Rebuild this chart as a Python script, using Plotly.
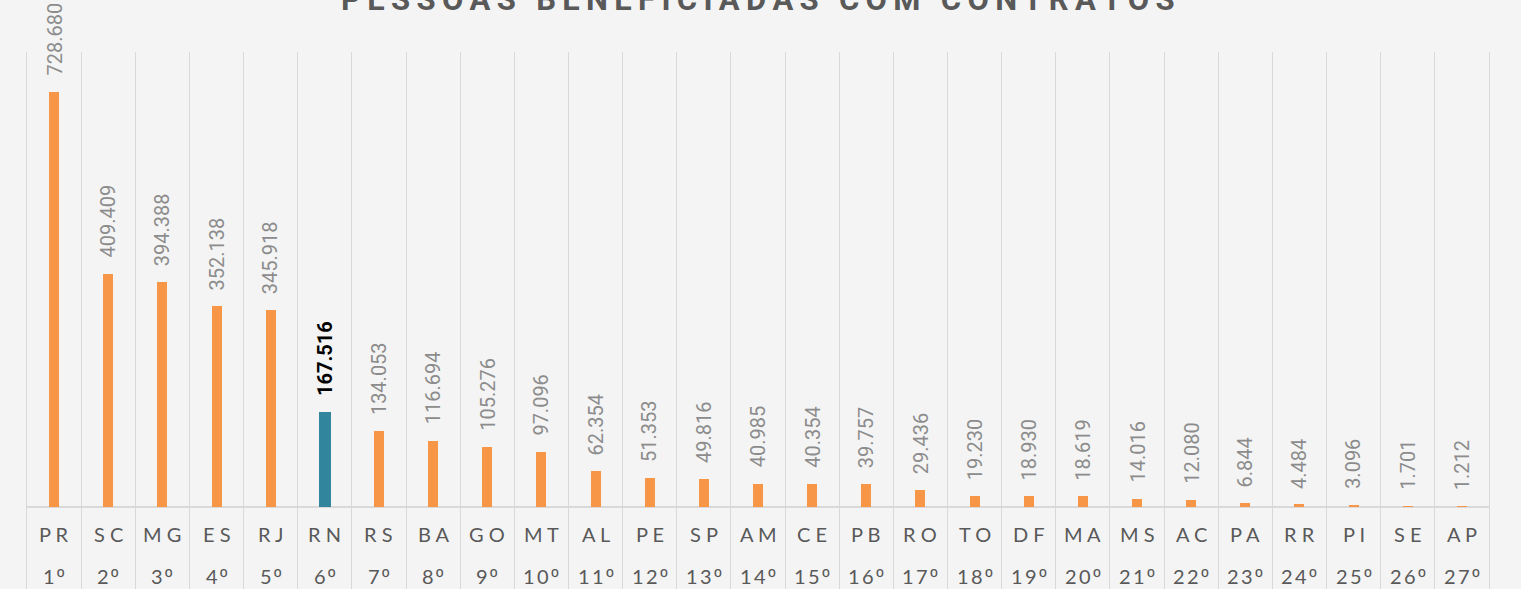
import plotly.graph_objects as go

# ---- data ----
states = ["PR", "SC", "MG", "ES", "RJ", "RN", "RS", "BA", "GO", "MT", "AL", "PE", "SP", "AM",
          "CE", "PB", "RO", "TO", "DF", "MA", "MS", "AC", "PA", "RR", "PI", "SE", "AP"]
values = [728680, 409409, 394388, 352138, 345918, 167516, 134053, 116694, 105276, 97096,
          62354, 51353, 49816, 40985, 40354, 39757, 29436, 19230, 18930, 18619, 14016,
          12080, 6844, 4484, 3096, 1701, 1212]
ranks = ["1º", "2º", "3º", "4º", "5º", "6º", "7º", "8º", "9º", "10º", "11º", "12º", "13º", "14º",
         "15º", "16º", "17º", "18º", "19º", "20º", "21º", "22º", "23º", "24º", "25º", "26º", "27º"]
highlight = "RN"
title_text = "PESSOAS BENEFICIADAS COM CONTRATOS"

# ---- style ----
BG = "#f4f4f4"
ORANGE = "#f79646"
TEAL = "#31859c"
GRID = "#d9d9d9"
W, H = 1521, 589
M_L, M_R, M_T, M_B = 27, 32, 52, 0


def fmt(v):
    return f"{v:,}".replace(",", ".")


def spaced(s, sep=" "):
    return sep.join(list(s))


def rank_label(r):
    out = []
    for ch in r:
        if ch == "º":
            out.append('<span style="font-family:Liberation Sans">º</span>')
        else:
            out.append(ch)
    return "\u2009".join(out)


colors = [TEAL if s == highlight else ORANGE for s in states]
widths = [0.22 if s == highlight else 0.185 for s in states]

fig = go.Figure()
fig.add_trace(go.Bar(
    x=states, y=values,
    marker=dict(color=colors, line=dict(width=0)),
    width=widths,
    hoverinfo="skip",
))

annotations = []
# value labels
for s, v in zip(states, values):
    hl = s == highlight
    annotations.append(dict(
        x=s, y=v, xref="x", yref="y",
        text=f"<b>{fmt(v)}</b>" if hl else fmt(v),
        textangle=-90, showarrow=False,
        xanchor="center", yanchor="bottom", yshift=14,
        font=dict(family="Roboto", size=20, color="#000000" if hl else "#8c8c8c"),
    ))

# table labels (state row and rank row)
plot_h = H - M_T - M_B
for s, r in zip(states, ranks):
    annotations.append(dict(
        x=s, y=(H - 534) / plot_h, xref="x", yref="paper",
        text=spaced(s), showarrow=False, xanchor="center", yanchor="middle",
        font=dict(family="Lato", size=20, color="#595959"),
    ))
    annotations.append(dict(
        x=s, y=(H - 576) / plot_h, xref="x", yref="paper",
        text=rank_label(r), showarrow=False, xanchor="center", yanchor="middle",
        font=dict(family="Lato", size=20, color="#595959"),
    ))

# title (partially cut at the top, like the reference)
title_spaced = "\u2009 \u2009".join(spaced(w, "\u2009") for w in title_text.split(" "))
annotations.append(dict(
    x=0.5, y=1 + 32 / plot_h, xref="paper", yref="paper",
    text=f"<b>{title_spaced}</b>", showarrow=False,
    xanchor="center", yanchor="bottom",
    font=dict(family="Roboto", size=31, color="#595959"),
))

# y range: baseline at 507px, top of plot at 52px, PR top at 92px
ppu = (507 - 92) / max(values)
ymax = (507 - M_T) / ppu
ymin = -(H - 507) / ppu

fig.update_layout(
    width=W, height=H,
    margin=dict(l=M_L, r=M_R, t=M_T, b=M_B, pad=0),
    paper_bgcolor=BG, plot_bgcolor=BG,
    showlegend=False,
    bargap=0,
    annotations=annotations,
    xaxis=dict(
        type="category", showticklabels=False, ticks="",
        showgrid=True, gridcolor=GRID, gridwidth=1, tickson="boundaries",
        zeroline=False, showline=False, fixedrange=True,
    ),
    yaxis=dict(
        range=[ymin, ymax], showticklabels=False, ticks="", showgrid=False,
        zeroline=True, zerolinecolor=GRID, zerolinewidth=2,
        showline=True, mirror=True, linecolor=GRID, linewidth=1, fixedrange=True,
    ),
)

fig.write_html(
    "out.html",
    config={"displayModeBar": False},
    post_script="document.body.style.margin='0';document.body.style.overflow='hidden';",
)
